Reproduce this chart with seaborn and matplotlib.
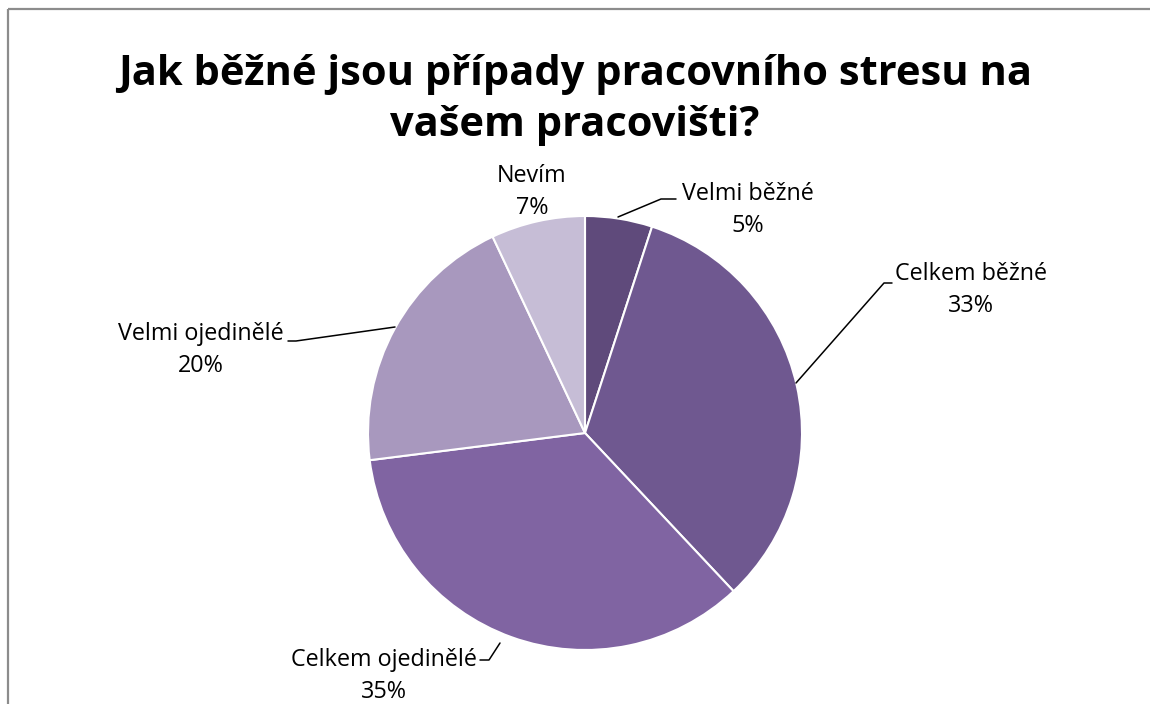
import matplotlib
matplotlib.use("Agg")
import matplotlib.pyplot as plt
import seaborn as sns
from matplotlib.patches import Rectangle
from matplotlib.lines import Line2D

sns.set_theme(style="white")
plt.rcParams['font.family'] = ['Open Sans', 'DejaVu Sans']

# Data
categories = ["Velmi běžné", "Celkem běžné", "Celkem ojedinělé", "Velmi ojedinělé", "Nevím"]
values = [5, 33, 35, 20, 7]
colors = ["#5F4A7B", "#6F5890", "#8064A2", "#A898BE", "#C6BDD6"]
title = "Jak běžné jsou případy pracovního stresu na\nvašem pracovišti?"

W, H = 1150, 704
fig = plt.figure(figsize=(W / 100, H / 100), dpi=100)
fig.patch.set_facecolor("white")

cx, cy, r = 585, 433, 217
ax = fig.add_axes([(cx - r) / W, (H - cy - r) / H, 2 * r / W, 2 * r / H])
ax.pie(values, colors=colors, startangle=90, counterclock=False,
       wedgeprops=dict(edgecolor="white", linewidth=1.5))
ax.set_xlim(-1, 1)
ax.set_ylim(-1, 1)
ax.set_aspect("equal")
ax.axis("off")

# overlay in pixel coordinates
ov = fig.add_axes([0, 0, 1, 1], facecolor="none")
ov.set_xlim(0, W)
ov.set_ylim(H, 0)
ov.axis("off")

# border
ov.add_patch(Rectangle((8, 9), W + 20, H + 20, fill=False, edgecolor="#8C8C8C",
                       linewidth=1.6, clip_on=False))

ov.text(575, 100, title, ha="center", va="center", fontsize=30,
        fontweight="bold", color="black", linespacing=1.33)

label_pos = [(748, 210), (971, 290), (384, 676), (201, 350), (532, 192)]
for cat, val, (x, y) in zip(categories, values, label_pos):
    ov.text(x, y, f"{cat}\n{val}%", ha="center", va="center", fontsize=16.8,
            color="black", linespacing=1.45)

leaders = [
    [(618, 217), (661, 199), (676, 199)],
    [(796, 383), (884, 283), (892, 283)],
    [(500, 643), (489, 660), (480, 660)],
    [(395, 327), (296, 341), (288, 341)],
]
for pts in leaders:
    xs, ys = zip(*pts)
    ov.add_line(Line2D(xs, ys, color="black", linewidth=1.1))

fig.savefig("out.png", dpi=100, facecolor="white")
